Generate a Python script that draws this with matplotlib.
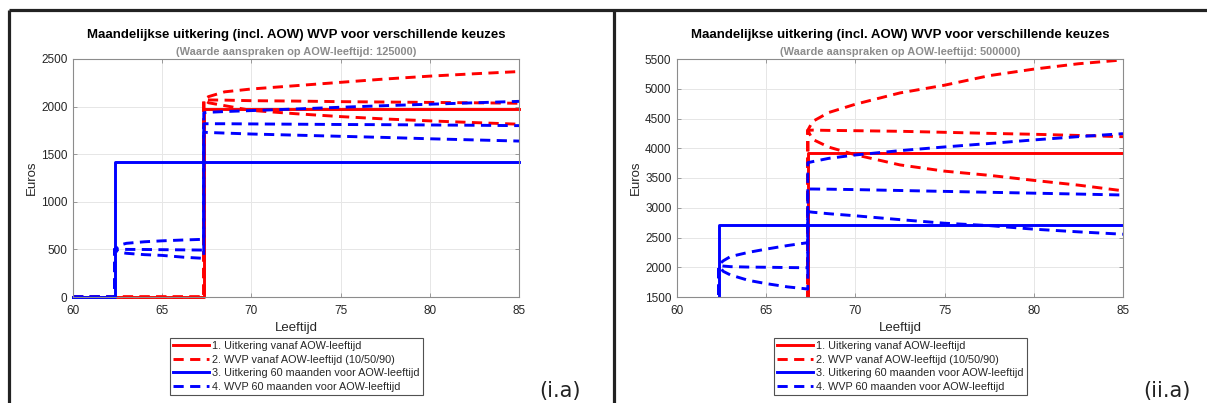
import numpy as np
from matplotlib import pyplot as plt
from matplotlib.lines import Line2D

plt.rcParams['font.family'] = ['Liberation Sans', 'DejaVu Sans']

# leeftijden
aow_leeftijd = 67.33
vroeg_leeftijd = 62.33
ages_pre = [62.33, 62.6, 63.0, 64.0, 65.0, 66.2, 67.33]
ages_post = [67.33, 67.6, 68.5, 70, 72.5, 75, 77.5, 80, 82.5, 85]

labels = ['1. Uitkering vanaf AOW-leeftijd',
          '2. WVP vanaf AOW-leeftijd (10/50/90)',
          '3. Uitkering 60 maanden voor AOW-leeftijd',
          '4. WVP 60 maanden voor AOW-leeftijd']

# (i.a) waarde aanspraken 125000
uitk_aow_125 = 1978
uitk_vroeg_125 = 1415
wvp_aow_125 = [
    [2075, 2105, 2155, 2185, 2220, 2255, 2290, 2320, 2345, 2368],
    [2075, 2070, 2068, 2062, 2058, 2052, 2048, 2044, 2040, 2035],
    [2075, 2040, 2010, 1960, 1925, 1895, 1870, 1850, 1832, 1815],
]
wvp_pre_125 = [
    [500, 545, 564, 580, 590, 599, 606],
    [500, 500, 500, 499, 497, 495, 493],
    [500, 470, 459, 445, 437, 418, 406],
]
wvp_post_125 = [
    [1935, 1940, 1948, 1958, 1975, 1993, 2010, 2025, 2040, 2055],
    [1820, 1820, 1820, 1818, 1815, 1812, 1810, 1807, 1804, 1800],
    [1730, 1728, 1722, 1712, 1700, 1688, 1676, 1662, 1650, 1638],
]

# (ii.a) waarde aanspraken 500000
uitk_aow_500 = 3925
uitk_vroeg_500 = 2705
wvp_aow_500 = [
    [4300, 4450, 4600, 4740, 4930, 5060, 5220, 5330, 5420, 5485],
    [4300, 4305, 4300, 4295, 4285, 4268, 4250, 4235, 4215, 4194],
    [4300, 4150, 4020, 3890, 3720, 3615, 3545, 3460, 3380, 3285],
]
wvp_pre_500 = [
    [2040, 2110, 2180, 2250, 2305, 2365, 2413],
    [2030, 2020, 2010, 2003, 2000, 1995, 1992],
    [2020, 1930, 1870, 1780, 1725, 1670, 1634],
]
wvp_post_500 = [
    [3757, 3775, 3830, 3887, 3960, 4022, 4080, 4140, 4195, 4245],
    [3315, 3315, 3312, 3305, 3290, 3275, 3260, 3245, 3230, 3214],
    [2935, 2925, 2900, 2865, 2800, 2740, 2700, 2640, 2595, 2555],
]


def teken_paneel(ax, uitk_aow, uitk_vroeg, wvp_aow, wvp_pre, wvp_post, yticks, waarde, clip):
    dash = (3.5, 2.2)
    lw = 2.1

    # 1. uitkering vanaf AOW-leeftijd
    h1, = ax.plot([60, aow_leeftijd, aow_leeftijd, 85], [0, 0, uitk_aow, uitk_aow],
                  color='red', lw=lw, clip_on=clip)
    # 2. WVP vanaf AOW-leeftijd
    for curve in wvp_aow:
        h2, = ax.plot([60, aow_leeftijd] + ages_post, [0, 0] + curve,
                      color='red', lw=lw, dashes=dash, clip_on=clip)
    # 3. uitkering 60 maanden eerder
    h3, = ax.plot([60, vroeg_leeftijd, vroeg_leeftijd, 85], [0, 0, uitk_vroeg, uitk_vroeg],
                  color='blue', lw=lw, clip_on=clip)
    # 4. WVP 60 maanden eerder
    for pre, post in zip(wvp_pre, wvp_post):
        h4, = ax.plot([60, vroeg_leeftijd] + ages_pre + ages_post, [0, 0] + pre + post,
                      color='blue', lw=lw, dashes=dash, clip_on=clip)

    ax.set_xlim(60, 85)
    ax.set_ylim(yticks[0], yticks[-1])
    ax.set_xticks([60, 65, 70, 75, 80, 85])
    ax.set_yticks(yticks)
    ax.grid(True, color='0.9', lw=0.7)
    ax.set_axisbelow(True)
    ax.tick_params(direction='in', top=True, right=True, length=3, width=0.6,
                   labelsize=8.5, colors='0.55', labelcolor='#262626')
    ax.tick_params(axis='x', pad=5.5)
    ax.tick_params(axis='y', pad=4)
    for sp in ax.spines.values():
        sp.set_color('0.55')
        sp.set_linewidth(0.8)

    ax.set_xlabel('Leeftijd', fontsize=9.5, color='#262626', labelpad=4)
    ax.set_ylabel('Euros', fontsize=9.5, color='#262626', labelpad=2)
    ax.text(0.5, 1.1, 'Maandelijkse uitkering (incl. AOW) WVP voor verschillende keuzes',
            transform=ax.transAxes, ha='center', va='center', fontsize=9.5,
            fontweight='bold', color='black')
    ax.text(0.5, 1.03, f'(Waarde aanspraken op AOW-leeftijd: {waarde})',
            transform=ax.transAxes, ha='center', va='center', fontsize=7.9,
            fontweight='bold', color='0.55')

    leg = ax.legend([h1, h2, h3, h4], labels, loc='upper center',
                    bbox_to_anchor=(0.5, -0.172), fontsize=7.8, frameon=True,
                    fancybox=False, edgecolor='0.15', borderaxespad=0,
                    handlelength=3.3, handletextpad=0.3, labelspacing=0.32,
                    borderpad=0.3)
    leg.get_frame().set_linewidth(0.8)
    for txt in leg.get_texts():
        txt.set_color('#262626')


if __name__ == '__main__':
    fig = plt.figure(figsize=(12.07, 4.03), dpi=100)

    ax1 = fig.add_axes([73 / 1207, 1 - 297 / 403, 446 / 1207, 238 / 403])
    ax2 = fig.add_axes([677 / 1207, 1 - 297 / 403, 446 / 1207, 238 / 403])

    teken_paneel(ax1, uitk_aow_125, uitk_vroeg_125, wvp_aow_125, wvp_pre_125, wvp_post_125,
                 [0, 500, 1000, 1500, 2000, 2500], 125000, clip=False)
    teken_paneel(ax2, uitk_aow_500, uitk_vroeg_500, wvp_aow_500, wvp_pre_500, wvp_post_500,
                 [1500, 2000, 2500, 3000, 3500, 4000, 4500, 5000, 5500], 500000, clip=True)

    # kader rond de panelen
    frame_kw = dict(color='#222222', lw=2.3, solid_capstyle='butt')
    fig.add_artist(Line2D([9 / 1207, 1], [1 - 10 / 403, 1 - 10 / 403], **frame_kw))
    fig.add_artist(Line2D([9 / 1207, 9 / 1207], [0, 1 - 10 / 403], **frame_kw))
    fig.add_artist(Line2D([614 / 1207, 614 / 1207], [0, 1 - 10 / 403], **frame_kw))

    fig.text(539 / 1207, 2 / 403, '(i.a)', fontsize=15, family=['DejaVu Sans'],
             color='#222222', va='bottom', ha='left')
    fig.text(1143 / 1207, 2 / 403, '(ii.a)', fontsize=15, family=['DejaVu Sans'],
             color='#222222', va='bottom', ha='left')

    plt.savefig('out.png', dpi=100)
